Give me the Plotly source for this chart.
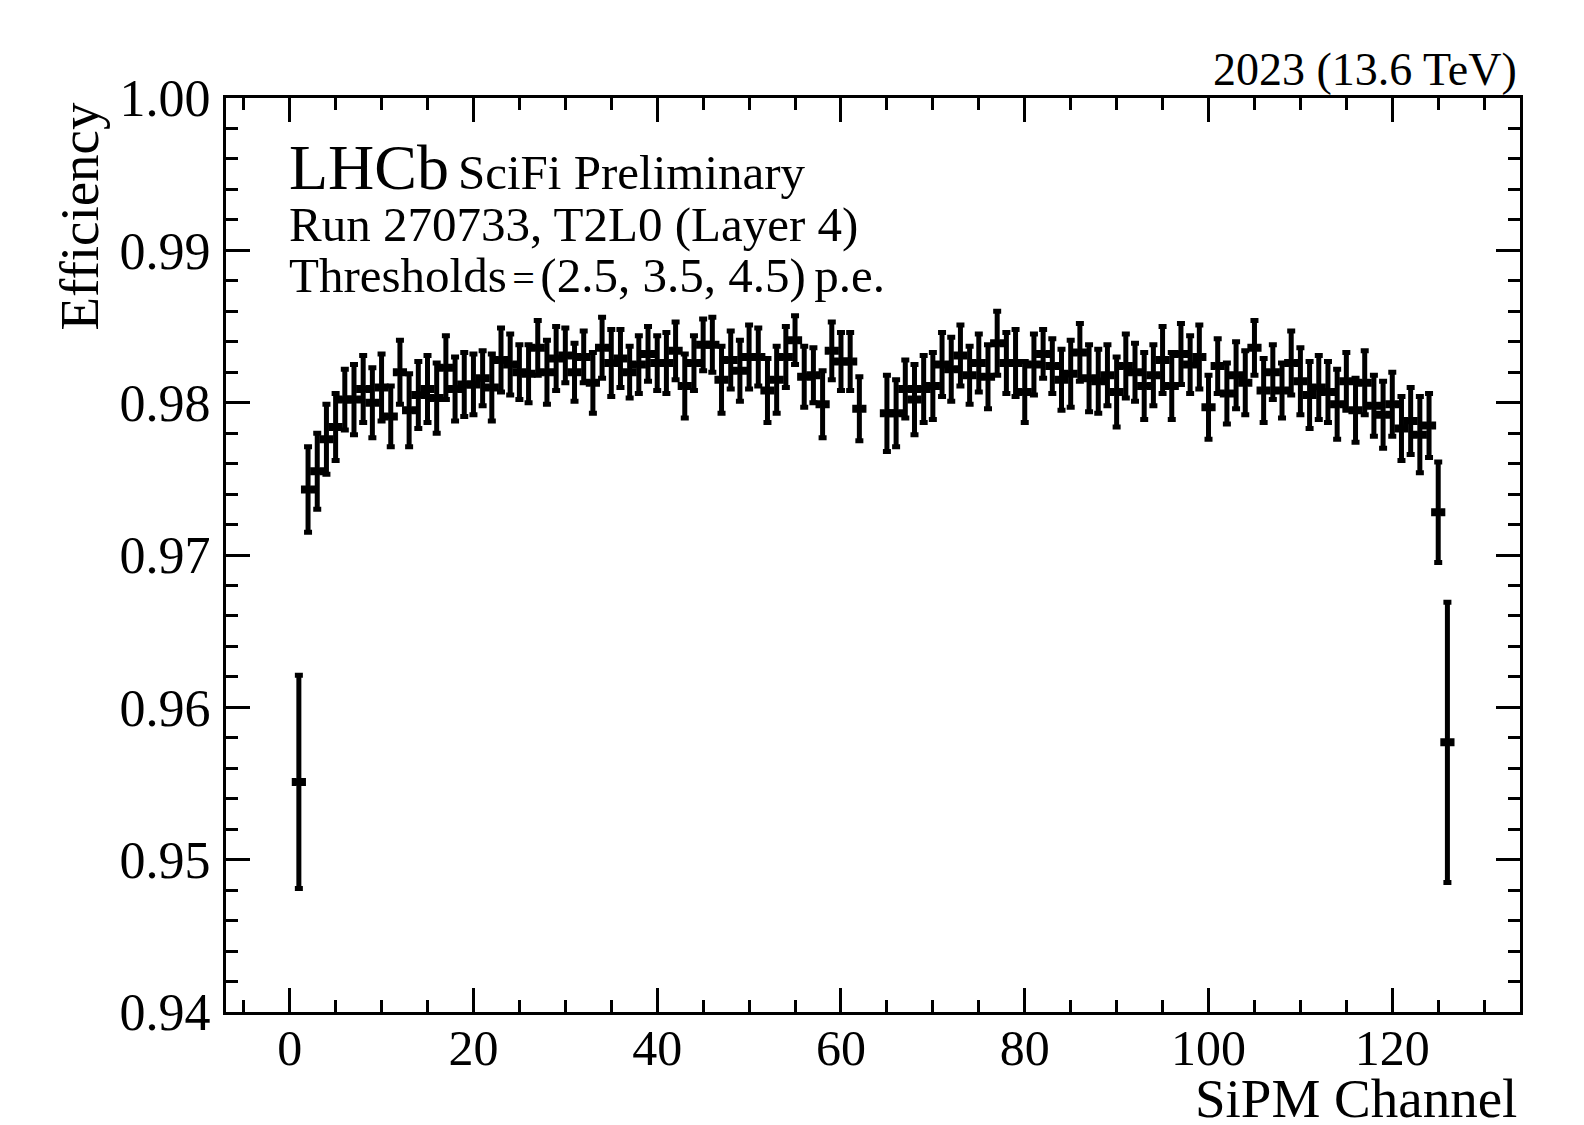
import plotly.graph_objects as go

# ---------------- data ----------------
channels = list(range(1, 63)) + list(range(65, 127))

efficiency = [
    0.9551, 0.9743, 0.9755, 0.9776, 0.9784, 0.9802, 0.9802, 0.9809, 0.9800, 0.9810,
    0.9791, 0.9820, 0.9795, 0.9805, 0.9809, 0.9803, 0.9823, 0.9809, 0.9812, 0.9812,
    0.9816, 0.9810, 0.9828, 0.9825, 0.9820, 0.9819, 0.9836, 0.9820, 0.9829, 0.9831,
    0.9820, 0.9830, 0.9813, 0.9836, 0.9826, 0.9829, 0.9820, 0.9825, 0.9832, 0.9826,
    0.9826, 0.9834, 0.9811, 0.9826, 0.9838, 0.9838, 0.9815, 0.9828, 0.9821, 0.9830,
    0.9830, 0.9808, 0.9815, 0.9830, 0.9841, 0.9817, 0.9818, 0.9799, 0.9834, 0.9827,
    0.9827, 0.9796,
    0.9793, 0.9793, 0.9809, 0.9802, 0.9809, 0.9811, 0.9825, 0.9822, 0.9831, 0.9818,
    0.9826, 0.9817, 0.9839, 0.9826, 0.9826, 0.9807, 0.9825, 0.9832, 0.9824, 0.9815,
    0.9819, 0.9833, 0.9816, 0.9814, 0.9818, 0.9807, 0.9824, 0.9820, 0.9811, 0.9818,
    0.9828, 0.9811, 0.9832, 0.9825, 0.9830, 0.9797, 0.9824, 0.9806, 0.9818, 0.9813,
    0.9836, 0.9808, 0.9820, 0.9808, 0.9826, 0.9814, 0.9805, 0.9810, 0.9807, 0.9799,
    0.9814, 0.9795, 0.9813, 0.9798, 0.9792, 0.9799, 0.9783, 0.9788, 0.9779, 0.9785,
    0.9728, 0.9577,
]

eff_error = [
    0.0070, 0.0028, 0.0025, 0.0023, 0.0022, 0.0020, 0.0023, 0.0022, 0.0023, 0.0022,
    0.0020, 0.0021, 0.0024, 0.0022, 0.0022, 0.0023, 0.0021, 0.0021, 0.0021, 0.0020,
    0.0018, 0.0022, 0.0021, 0.0020, 0.0018, 0.0019, 0.0018, 0.0021, 0.0021, 0.0018,
    0.0019, 0.0017, 0.0020, 0.0020, 0.0022, 0.0019, 0.0017, 0.0019, 0.0018, 0.0018,
    0.0020, 0.0019, 0.0021, 0.0018, 0.0017, 0.0018, 0.0022, 0.0019, 0.0020, 0.0021,
    0.0019, 0.0021, 0.0022, 0.0020, 0.0016, 0.0020, 0.0018, 0.0022, 0.0019, 0.0019,
    0.0019, 0.0021,
    0.0025, 0.0022, 0.0019, 0.0023, 0.0022, 0.0022, 0.0021, 0.0021, 0.0020, 0.0019,
    0.0019, 0.0021, 0.0021, 0.0020, 0.0022, 0.0020, 0.0020, 0.0016, 0.0018, 0.0020,
    0.0022, 0.0019, 0.0022, 0.0021, 0.0020, 0.0023, 0.0021, 0.0019, 0.0022, 0.0020,
    0.0022, 0.0022, 0.0020, 0.0019, 0.0021, 0.0021, 0.0018, 0.0020, 0.0022, 0.0021,
    0.0018, 0.0021, 0.0018, 0.0018, 0.0021, 0.0022, 0.0022, 0.0021, 0.0020, 0.0023,
    0.0019, 0.0021, 0.0021, 0.0020, 0.0022, 0.0021, 0.0021, 0.0022, 0.0025, 0.0021,
    0.0033, 0.0092,
]

channel_half_width = [0.5] * len(channels)

x_title = "SiPM Channel"
y_title = "Efficiency"
energy_label = "2023 (13.6 TeV)"
lhcb_label = "LHCb"
sub_label = "SciFi Preliminary"
run_label = "Run 270733, T2L0 (Layer 4)"
thr_label = ("Thresholds<span style='font-size:22px'> </span>"
             "<span style='font-size:40px'>=</span>"
             "<span style='font-size:22px'> </span>(2.5, 3.5, 4.5)"
             "<span style='font-size:34px'> </span>p.e.")

# ---------------- layout geometry ----------------
W, H = 1584, 1125
L, R, T, B = 226, 1520, 98, 1012
FONT = "Liberation Serif, Times New Roman, serif"


def px(x):
    return (x - L) / (R - L)


def py(y):
    return (B - y) / (B - T)


fig = go.Figure()
fig.add_trace(go.Scatter(
    x=channels, y=efficiency,
    mode="markers",
    marker=dict(symbol="square", size=6, color="black"),
    error_y=dict(type="data", array=eff_error, visible=True,
                 color="black", thickness=5, width=4),
    error_x=dict(type="data", array=channel_half_width, visible=True,
                 color="black", thickness=5, width=4),
    showlegend=False,
))

axis_common = dict(
    showline=True, linecolor="black", linewidth=3, mirror="ticks",
    ticks="inside", ticklen=24, tickwidth=3, tickcolor="black",
    showgrid=False, zeroline=False,
)

fig.update_xaxes(
    range=[-6.93, 133.9], tick0=0, dtick=20,
    minor=dict(ticks="inside", ticklen=12, tickwidth=3, tickcolor="black",
               dtick=5, tick0=0, showgrid=False),
    ticklabelstandoff=-10,
    tickfont=dict(family=FONT, size=50, color="black"),
    **axis_common,
)
fig.update_yaxes(
    range=[0.94, 1.00], tick0=0.94, dtick=0.01, tickformat=".2f",
    minor=dict(ticks="inside", ticklen=12, tickwidth=3, tickcolor="black",
               dtick=0.002, tick0=0.94, showgrid=False),
    ticklabelstandoff=2,
    tickfont=dict(family=FONT, size=52, color="black"),
    **axis_common,
)

ann = []
ann.append(dict(text=energy_label, x=px(1519), y=py(69), xanchor="right", yanchor="middle",
                font=dict(family=FONT, size=46, color="black")))
ann.append(dict(text=lhcb_label, x=px(287), y=py(168), xanchor="left", yanchor="middle",
                font=dict(family=FONT, size=64, color="black")))
ann.append(dict(text=sub_label, x=px(456), y=py(172), xanchor="left", yanchor="middle",
                font=dict(family=FONT, size=49, color="black")))
ann.append(dict(text=run_label, x=px(287), y=py(224), xanchor="left", yanchor="middle",
                font=dict(family=FONT, size=49, color="black")))
ann.append(dict(text=thr_label, x=px(287), y=py(276), xanchor="left", yanchor="middle",
                font=dict(family=FONT, size=49, color="black")))
ann.append(dict(text=y_title, x=px(79), y=py(100), xanchor="center", yanchor="top",
                textangle=-90, font=dict(family=FONT, size=55, color="black")))
ann.append(dict(text=x_title, x=px(1519), y=py(1098), xanchor="right", yanchor="middle",
                font=dict(family=FONT, size=55, color="black")))
for a in ann:
    a.update(xref="paper", yref="paper", showarrow=False)

fig.update_layout(
    width=W, height=H,
    margin=dict(l=L, r=W - R, t=T, b=H - B, pad=0),
    paper_bgcolor="white", plot_bgcolor="white",
    font=dict(family=FONT, color="black"),
    annotations=ann,
)

fig.write_html("out.html")
